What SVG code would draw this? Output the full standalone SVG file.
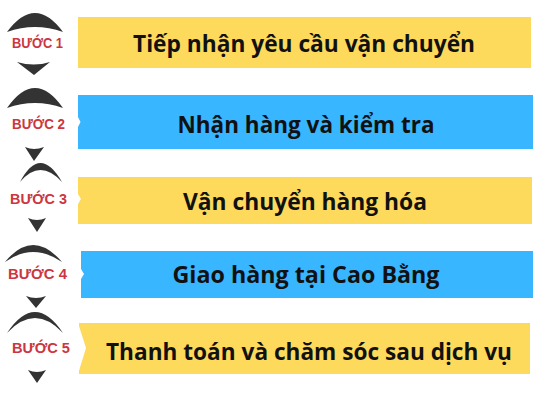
<svg xmlns="http://www.w3.org/2000/svg" width="533" height="400" viewBox="0 0 533 400">
<style>
.bg{fill:#ffffff}
.y{fill:#fdd95c}
.b{fill:#38b6ff}
.t{font-family:"Open Sans","Noto Sans","Liberation Sans",sans-serif;font-weight:700;font-size:24px;fill:#111111;text-anchor:middle}
.lbl{font-family:"Liberation Sans","Noto Sans",sans-serif;font-weight:700;font-size:15px;fill:#cc3640}
.cap{fill:#333333}
.notch{fill:#ffffff}
</style>
<rect class="bg" x="0" y="0" width="533" height="400"/>
<g id="step1">
  <path class="cap" d="M7,32 Q35,-6 63,32 Q35,22 7,32 Z"/>
  <text class="lbl" x="12" y="48" textLength="51" lengthAdjust="spacingAndGlyphs">BƯỚC 1</text>
  <rect class="y" x="78" y="17" width="453" height="51"/>
  <text class="t" x="304" y="52" textLength="342" lengthAdjust="spacingAndGlyphs">Tiếp nhận yêu cầu vận chuyển</text>
</g>
<g id="step2">
  <path class="cap" d="M7,108 Q35,68 63,108 Q35,98 7,108 Z"/>
  <text class="lbl" x="12" y="129" textLength="53" lengthAdjust="spacingAndGlyphs">BƯỚC 2</text>
  <rect class="b" x="78" y="95" width="455" height="54"/>
  <path class="notch" d="M78,117 L80.5,122 L78,127 Z"/>
  <text class="t" x="306" y="133" textLength="257" lengthAdjust="spacingAndGlyphs">Nhận hàng và kiểm tra</text>
</g>
<g id="step3">
  <path class="cap" d="M20,182 Q40,144 62,182 Q40,158 20,182 Z"/>
  <text class="lbl" x="10" y="204" textLength="57" lengthAdjust="spacingAndGlyphs">BƯỚC 3</text>
  <rect class="y" x="78" y="177" width="454" height="47"/>
  <path class="notch" d="M78,194 L81,199 L78,204 Z"/>
  <text class="t" x="305" y="210" textLength="244" lengthAdjust="spacingAndGlyphs">Vận chuyển hàng hóa</text>
</g>
<g id="step4">
  <path class="cap" d="M5,262 Q33,228 62,262 Q33,242 5,262 Z"/>
  <text class="lbl" x="8" y="279" textLength="59" lengthAdjust="spacingAndGlyphs">BƯỚC 4</text>
  <rect class="b" x="81" y="251" width="452" height="47"/>
  <path class="notch" d="M81,269 L84,274 L81,279 Z"/>
  <text class="t" x="306" y="283" textLength="267" lengthAdjust="spacingAndGlyphs">Giao hàng tại Cao Bằng</text>
</g>
<g id="step5">
  <path class="cap" d="M7,333 Q35,291 63,333 Q35,303 7,333 Z"/>
  <text class="lbl" x="12" y="353" textLength="58" lengthAdjust="spacingAndGlyphs">BƯỚC 5</text>
  <rect class="y" x="79" y="323" width="451" height="51"/>
  <path class="notch" d="M78,323 L86,348 L78,374 Z"/>
  <text class="t" x="309" y="360" font-size="21" textLength="406" lengthAdjust="spacingAndGlyphs">Thanh toán và chăm sóc sau dịch vụ</text>
</g>
<g id="connectors">
  <path class="cap" d="M17,62 Q34,67 50,62 L34,75 Z"/>
  <path class="cap" d="M25,147 Q34,151 44,147 L34,161 Z"/>
  <path class="cap" d="M28,218 Q37,222 46,218 L37,232 Z"/>
  <path class="cap" d="M26,296 Q36,300 46,296 L36,308 Z"/>
  <path class="cap" d="M28,370 Q37,374 46,370 L37,383 Z"/>
</g>
</svg>
